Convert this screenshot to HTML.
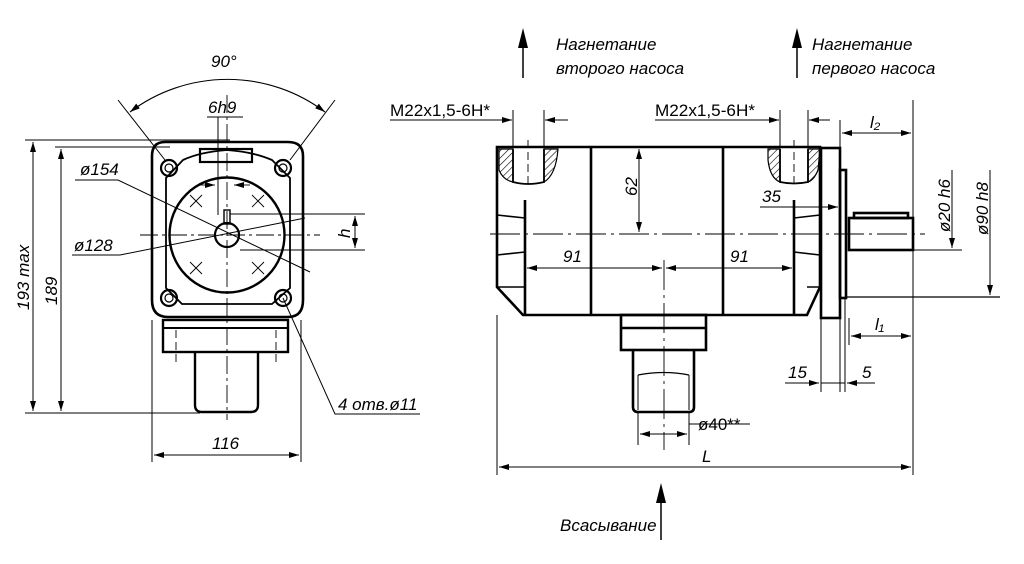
<!DOCTYPE html>
<html><head><meta charset="utf-8"><style>
html,body{margin:0;padding:0;background:#fff;}
svg{display:block;}
text{font-family:"Liberation Sans","DejaVu Sans",sans-serif;font-size:17px;fill:#000;}
.i{font-style:italic;}
</style></head><body>
<svg width="1024" height="564" viewBox="0 0 1024 564" xmlns="http://www.w3.org/2000/svg">
<defs>
<marker id="a" viewBox="0 0 10 6" refX="10" refY="3" markerWidth="14" markerHeight="6" orient="auto-start-reverse" markerUnits="userSpaceOnUse"><path d="M0,0 L10,3 L0,6 z" fill="#000"/></marker>
<pattern id="h" width="5" height="5" patternUnits="userSpaceOnUse" patternTransform="rotate(45)"><line x1="0" y1="0" x2="0" y2="5" stroke="#000" stroke-width="1.2"/></pattern>
</defs>
<g fill="none" stroke="#000" stroke-width="1.3">
<!-- LEFT VIEW -->
<path d="M165,142 Q152,142 152,156 L152,300 Q152,317 168,317 L288,317 Q303,317 303,300 L303,156 Q303,142 288,142 Z" stroke-width="2.6"/>
<path d="M183,160 Q200,152 227,150 Q254,152 272,160 L290,178 L290,288 L272,304 L182,304 L166,288 L166,178 Z" stroke-width="1.8"/>
<rect x="200" y="149" width="52" height="13" stroke-width="2.2"/>
<circle cx="227" cy="235" r="57.5" stroke-width="2.4"/>
<circle cx="227" cy="235" r="12" stroke-width="2.2"/>
<rect x="224" y="210" width="6" height="14" stroke-width="1.4"/>
<g stroke-width="2.2"><circle cx="169" cy="168" r="8"/><circle cx="283" cy="168" r="8"/><circle cx="169" cy="298" r="8"/><circle cx="283" cy="298" r="8"/></g>
<g stroke-width="1.2"><circle cx="169" cy="168" r="4"/><circle cx="283" cy="168" r="4"/><circle cx="169" cy="298" r="4"/><circle cx="283" cy="298" r="4"/></g>
<g stroke-width="0.9"><path d="M190,195 l12,12 M202,195 l-12,12 M252,195 l12,12 M264,195 l-12,12 M190,262 l12,12 M202,262 l-12,12 M252,262 l12,12 M264,262 l-12,12"/></g>
<rect x="163" y="320" width="125" height="32" stroke-width="2.4"/>
<line x1="163" y1="328" x2="288" y2="328" stroke-width="2"/>
<path d="M195,352 L195,405 Q195,412 202,412 L251,412 Q258,412 258,405 L258,352" stroke-width="2.4"/>
<g stroke-dasharray="18,4,3,4" stroke-width="0.9"><line x1="227" y1="95" x2="227" y2="420"/><line x1="140" y1="235" x2="320" y2="235"/></g>
<g stroke-dasharray="8,4" stroke-width="0.9"><line x1="176" y1="330" x2="176" y2="362"/><line x1="276" y1="330" x2="276" y2="362"/></g>
<!-- dims left -->
<line x1="25" y1="140" x2="230" y2="140" stroke-width="1"/>
<line x1="55" y1="147" x2="170" y2="147" stroke-width="1"/>
<line x1="25" y1="413" x2="200" y2="413" stroke-width="1"/>
<line x1="33" y1="142" x2="33" y2="411" marker-start="url(#a)" marker-end="url(#a)" stroke-width="1"/>
<line x1="61" y1="149" x2="61" y2="411" marker-start="url(#a)" marker-end="url(#a)" stroke-width="1"/>
<line x1="152" y1="320" x2="152" y2="462" stroke-width="1"/>
<line x1="301" y1="320" x2="301" y2="462" stroke-width="1"/>
<line x1="154" y1="455" x2="299" y2="455" marker-start="url(#a)" marker-end="url(#a)" stroke-width="1"/>
<path d="M130,112 A162,162 0 0 1 325,112" marker-start="url(#a)" marker-end="url(#a)" stroke-width="1.1"/>
<line x1="118" y1="100" x2="165" y2="160" stroke-width="1"/>
<line x1="335" y1="100" x2="290" y2="160" stroke-width="1"/>
<polyline points="243,117 207,117 218,117 218,215" stroke-width="1"/>
<line x1="230" y1="214" x2="365" y2="214" stroke-width="1"/>
<line x1="240" y1="250" x2="365" y2="250" stroke-width="1"/>
<line x1="355" y1="216" x2="355" y2="248" marker-start="url(#a)" marker-end="url(#a)" stroke-width="1"/>
<polyline points="75,180 118,180 310,272" stroke-width="1"/>
<line x1="200" y1="185" x2="215" y2="185" marker-end="url(#a)" stroke-width="0.9"/>
<line x1="250" y1="185" x2="234" y2="185" marker-end="url(#a)" stroke-width="0.9"/>
<polyline points="72,255 120,255 305,218" stroke-width="1"/>
<polyline points="420,414 335,414 283,298" stroke-width="1"/>
<!-- RIGHT VIEW body -->
<g stroke-width="2.6">
<path d="M497,147 L820,147 L820,287 L807,315 L523,315 L497,287 Z"/>
<line x1="591" y1="147" x2="591" y2="315"/>
<line x1="723" y1="147" x2="723" y2="315"/>
<line x1="525" y1="200" x2="525" y2="315"/>
<line x1="794" y1="200" x2="794" y2="315"/>
<rect x="821" y="148" width="19" height="170"/>
<rect x="840" y="170" width="6" height="128"/>
<rect x="849" y="218" width="64" height="32"/>
<rect x="854" y="213" width="54" height="5"/>
<rect x="621" y="315" width="85" height="35"/>
<line x1="621" y1="328" x2="706" y2="328"/>
<path d="M633,350 L633,407 Q633,412 638,412 L689,412 Q694,412 694,407 L694,350"/>
</g>
<path d="M497,287 L525,287 M807,287 L820,287 M497,215 L525,218 M497,255 L525,252 M794,218 L820,215 M794,252 L820,255" stroke-width="1.6"/>
<path d="M638,375 Q664,370 689,375" stroke-width="1.2"/>
<line x1="638" y1="375" x2="638" y2="410" stroke-width="1"/><line x1="689" y1="375" x2="689" y2="410" stroke-width="1"/>
<!-- ports hatched -->
<path d="M499,149 L513,149 L513,182 Q503,180 499,170 Z" fill="url(#h)" stroke-width="1.2"/>
<path d="M544,149 L558,149 Q556,175 544,182 Z" fill="url(#h)" stroke-width="1.2"/>
<path d="M513,149 L513,182 Q528,186 544,182 L544,149" stroke-width="1.8"/>
<path d="M768,149 L780,149 L780,182 Q770,178 768,160 Z" fill="url(#h)" stroke-width="1.2"/>
<path d="M808,149 L820,149 L818,170 Q814,180 808,182 Z" fill="url(#h)" stroke-width="1.2"/>
<path d="M780,149 L780,182 Q794,185 808,182 L808,149" stroke-width="1.8"/>
<g stroke-dasharray="8,4" stroke-width="0.9"><line x1="528" y1="140" x2="528" y2="185"/><line x1="794" y1="140" x2="794" y2="185"/></g>
<g stroke-dasharray="30,5,3,5" stroke-width="0.9"><line x1="490" y1="234" x2="925" y2="234"/><line x1="664" y1="260" x2="664" y2="450"/></g>
<!-- right dims -->
<line x1="513" y1="110" x2="513" y2="147" stroke-width="1"/><line x1="544" y1="110" x2="544" y2="147" stroke-width="1"/>
<polyline points="390,120 490,120 512,120" marker-end="url(#a)" stroke-width="1"/>
<line x1="568" y1="120" x2="545" y2="120" marker-end="url(#a)" stroke-width="1"/>
<line x1="780" y1="110" x2="780" y2="147" stroke-width="1"/><line x1="808" y1="110" x2="808" y2="147" stroke-width="1"/>
<line x1="655" y1="120" x2="779" y2="120" marker-end="url(#a)" stroke-width="1"/>
<line x1="830" y1="120" x2="809" y2="120" marker-end="url(#a)" stroke-width="1"/>
<line x1="639" y1="149" x2="639" y2="232" marker-start="url(#a)" marker-end="url(#a)" stroke-width="1"/>
<line x1="527" y1="268" x2="662" y2="268" marker-start="url(#a)" marker-end="url(#a)" stroke-width="1"/>
<line x1="666" y1="268" x2="792" y2="268" marker-start="url(#a)" marker-end="url(#a)" stroke-width="1"/>
<polyline points="760,207 790,207 838,207" marker-end="url(#a)" stroke-width="1"/>
<line x1="840" y1="120" x2="840" y2="148" stroke-width="1"/>
<line x1="913" y1="100" x2="913" y2="475" stroke-width="1"/>
<line x1="842" y1="133" x2="911" y2="133" marker-start="url(#a)" marker-end="url(#a)" stroke-width="1"/>
<line x1="849" y1="318" x2="849" y2="345" stroke-width="1"/>
<line x1="851" y1="336" x2="911" y2="336" marker-start="url(#a)" marker-end="url(#a)" stroke-width="1"/>
<line x1="913" y1="250" x2="962" y2="250" stroke-width="1"/>
<line x1="952" y1="170" x2="952" y2="248" marker-end="url(#a)" stroke-width="1"/>
<line x1="846" y1="297" x2="1000" y2="297" stroke-width="1.2"/>
<line x1="990" y1="170" x2="990" y2="295" marker-end="url(#a)" stroke-width="1"/>
<line x1="821" y1="318" x2="821" y2="392" stroke-width="1"/>
<line x1="840" y1="318" x2="840" y2="392" stroke-width="1"/>
<line x1="845" y1="298" x2="845" y2="392" stroke-width="1"/>
<polyline points="785,383 819,383" marker-end="url(#a)" stroke-width="1"/>
<line x1="821" y1="383" x2="845" y2="383" stroke-width="1"/>
<polyline points="875,383 847,383" marker-end="url(#a)" stroke-width="1"/>
<line x1="638" y1="412" x2="638" y2="445" stroke-width="1"/>
<line x1="689" y1="412" x2="689" y2="445" stroke-width="1"/>
<line x1="640" y1="434" x2="687" y2="434" marker-start="url(#a)" marker-end="url(#a)" stroke-width="1"/>
<line x1="689" y1="424" x2="750" y2="424" stroke-width="1"/>
<line x1="497" y1="315" x2="497" y2="475" stroke-width="1"/>
<line x1="499" y1="467" x2="911" y2="467" marker-start="url(#a)" marker-end="url(#a)" stroke-width="1"/>
<!-- flow arrows -->
<line x1="523" y1="78" x2="523" y2="35" stroke-width="1.5"/>
<line x1="797" y1="78" x2="797" y2="35" stroke-width="1.5"/>
<line x1="661" y1="540" x2="661" y2="490" stroke-width="1.5"/>
</g>
<path d="M518,48 L523,28 L528,48 Z"/><path d="M792,48 L797,28 L802,48 Z"/><path d="M656,503 L661,483 L666,503 Z"/>
<!-- texts -->
<text x="211" y="67" class="i">90°</text>
<text x="208" y="113" class="i" font-size="16">6h9</text>
<text x="80" y="175" class="i" font-size="16">ø154</text>
<text x="74" y="251" class="i" font-size="16">ø128</text>
<text x="350" y="238" class="i" font-size="16" transform="rotate(-90 350 238)">h</text>
<text x="29" y="310" class="i" font-size="16" transform="rotate(-90 29 310)">193 max</text>
<text x="57" y="305" class="i" font-size="16" transform="rotate(-90 57 305)">189</text>
<text x="212" y="449" class="i" font-size="16">116</text>
<text x="338" y="410" class="i" font-size="16">4 отв.ø11</text>
<text x="390" y="116" font-size="16" textLength="100" lengthAdjust="spacingAndGlyphs">M22x1,5-6H*</text>
<text x="655" y="116" font-size="16" textLength="100" lengthAdjust="spacingAndGlyphs">M22x1,5-6H*</text>
<text x="556" y="50" class="i" font-size="15">Нагнетание</text>
<text x="556" y="74" class="i" font-size="15">второго насоса</text>
<text x="812" y="50" class="i" font-size="15">Нагнетание</text>
<text x="812" y="74" class="i" font-size="15">первого насоса</text>
<text x="637" y="196" class="i" font-size="16" transform="rotate(-90 637 196)">62</text>
<text x="563" y="262" class="i" font-size="16">91</text>
<text x="730" y="262" class="i" font-size="16">91</text>
<text x="762" y="202" class="i" font-size="16">35</text>
<text x="870" y="128" class="i" font-size="16">l₂</text>
<text x="875" y="330" class="i" font-size="16">l₁</text>
<text x="950" y="232" class="i" font-size="16" transform="rotate(-90 950 232)">ø20 h6</text>
<text x="988" y="235" class="i" font-size="16" transform="rotate(-90 988 235)">ø90 h8</text>
<text x="788" y="378" class="i" font-size="16">15</text>
<text x="862" y="378" class="i" font-size="16">5</text>
<text x="698" y="430" font-size="15">ø40**</text>
<text x="702" y="462" class="i" font-size="16">L</text>
<text x="560" y="531" class="i" font-size="15">Всасывание</text>
</svg>
</body></html>
